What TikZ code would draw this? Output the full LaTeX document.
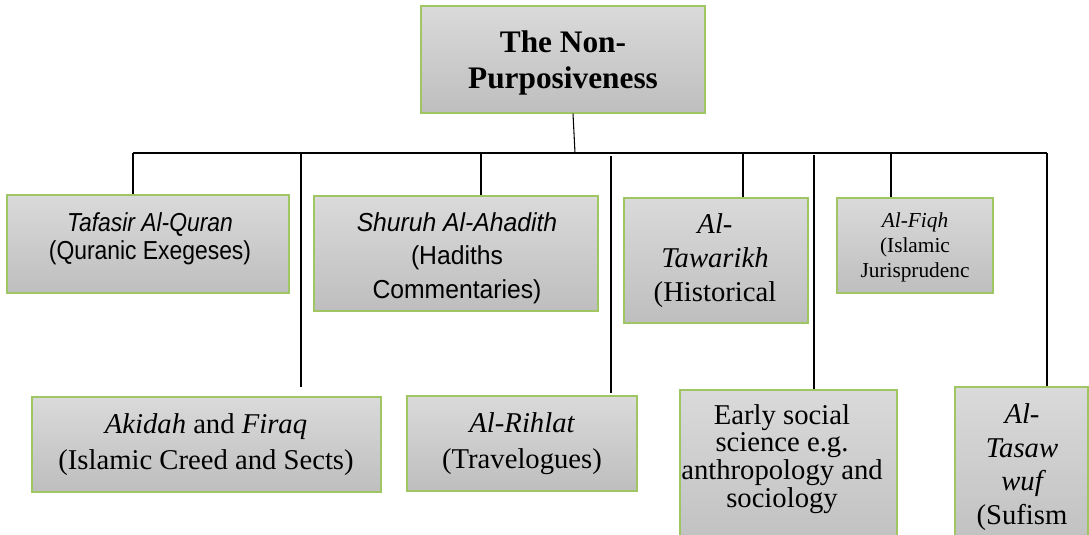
\documentclass[tikz,border=0pt]{standalone}
\usepackage{fontspec}
\setmainfont{Liberation Serif}
\newfontfamily\sansN[FakeStretch=0.88]{Liberation Sans}
\newfontfamily\sansM[FakeStretch=0.95]{Liberation Sans}
\usetikzlibrary{fit,calc}
\definecolor{boxgreen}{RGB}{160,198,100}
\definecolor{boxtop}{RGB}{218,218,218}
\definecolor{boxbot}{RGB}{190,190,190}
\begin{document}
\begin{tikzpicture}[x=0.75pt,y=-0.75pt,
  box/.style={draw=boxgreen, line width=1pt, top color=boxtop, bottom color=boxbot, inner sep=0pt, rectangle},
  txt/.style={align=center, inner sep=0pt, text=black},
  conn/.style={draw=black, line width=0.8pt}]
\useasboundingbox (0,0) rectangle (1089,535);
\clip (0,0) rectangle (1089,535);

% boxes
\node[box, fit={(421,6) (705,113)}] (root) {};
\node[box, fit={(7,195) (289,293)}] (tafasir) {};
\node[box, fit={(314,196) (598,311)}] (shuruh) {};
\node[box, fit={(624,198) (808,323)}] (tawarikh) {};
\node[box, fit={(837,198) (993,293)}] (fiqh) {};
\node[box, fit={(32,397) (381,492)}] (akidah) {};
\node[box, fit={(407,396) (637,491)}] (rihlat) {};
\node[box, fit={(680,390) (897,560)}] (early) {};
\node[box, fit={(955,387) (1088,560)}] (tasawwuf) {};

% texts
\node[txt, font=\bfseries\fontsize{23.5}{27.5}\selectfont] (root-t) at (563,63) {The Non-\\Purposiveness};
\node[txt, font=\sansN\fontsize{19.5}{21}\selectfont] (tafasir-t) at (150,239) {\itshape Tafasir Al-Quran\\(Quranic Exegeses)};
\node[txt, font=\sansM\fontsize{19.5}{25}\selectfont] (shuruh-t) at (457,258) {\itshape Shuruh Al-Ahadith\\(Hadiths\\Commentaries)};
\node[txt, font=\fontsize{21.5}{25.5}\selectfont] (tawarikh-t) at (715,261) {\itshape Al-\\\itshape Tawarikh\\(Historical};
\node[txt, font=\fontsize{16}{18.75}\selectfont] (fiqh-t) at (915,247) {\itshape Al-Fiqh\\(Islamic\\Jurisprudenc};
\node[txt, font=\fontsize{21.5}{27}\selectfont] (akidah-t) at (206,445) {\itshape Akidah\upshape{} and \itshape Firaq\\(Islamic Creed and Sects)};
\node[txt, font=\fontsize{21.5}{27}\selectfont] (rihlat-t) at (522,443.5) {\itshape Al-Rihlat\\(Travelogues)};
\node[txt, font=\fontsize{21.5}{20.8}\selectfont] (early-t) at (782,459) {Early social\\science e.g.\\anthropology and\\sociology};
\node[txt, font=\fontsize{21.5}{25.3}\selectfont] (tasawwuf-t) at (1022,467) {\itshape Al-\\\itshape Tasaw\\\itshape wuf\\(Sufism};

% bus coordinates
\coordinate (busL) at (133,153);
\coordinate (busR) at (1047,153);
\coordinate (stemTop) at (575,153);
\coordinate (b1) at (301,153);
\coordinate (b2) at (481,153);
\coordinate (b3) at (611,153);
\coordinate (b4) at (743,153);
\coordinate (b5) at (814,153);
\coordinate (b6) at (891,153);

% connectors
\draw[conn] ($(root.south)+(10,0)$) -- (stemTop);
\draw[conn] (busL) -- (busR);
\draw[conn] (busL) -- (busL |- tafasir.north);
\draw[conn, shorten >=6.75pt] (b1) -- (b1 |- akidah.north);
\draw[conn] (b2) -- (b2 |- shuruh.north);
\draw[conn, shorten <=2pt, shorten >=2pt] (b3) -- (b3 |- rihlat.north);
\draw[conn] (b4) -- (b4 |- tawarikh.north);
\draw[conn, shorten <=1.5pt] (b5) -- (b5 |- early.north);
\draw[conn] (b6) -- (b6 |- fiqh.north);
\draw[conn] (busR) -- (busR |- tasawwuf.north);
\end{tikzpicture}
\end{document}
